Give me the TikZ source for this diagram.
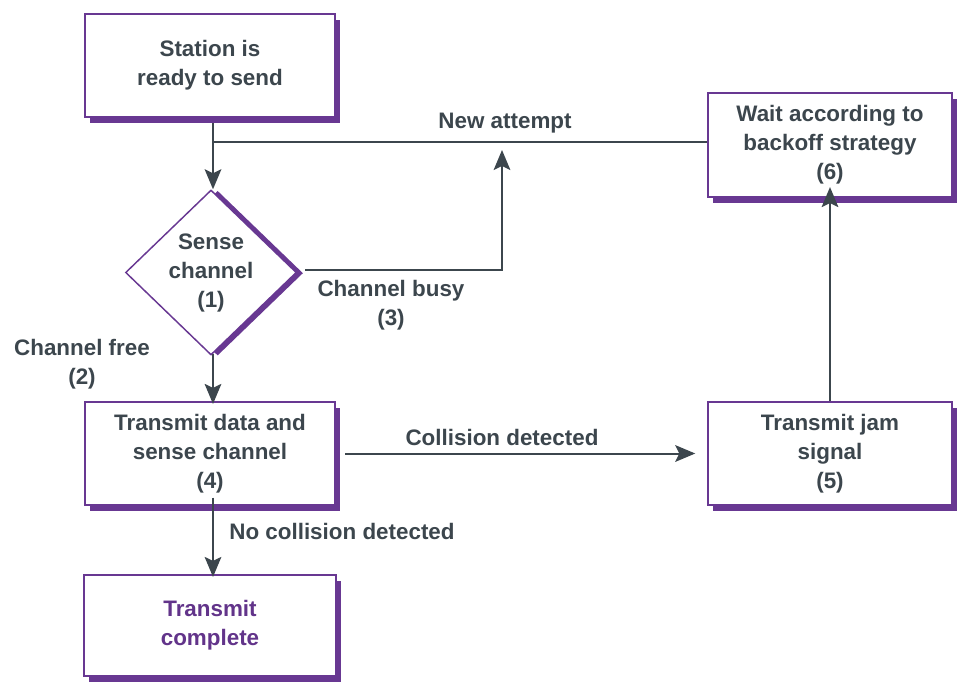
\documentclass[tikz,border=0pt]{standalone}
\usepackage{fontspec}
\setmainfont{Liberation Sans}
\usetikzlibrary{shapes.geometric,shadows,arrows.meta}
\definecolor{pur}{RGB}{104,56,146}
\definecolor{ink}{RGB}{60,70,77}
\definecolor{purtext}{RGB}{98,52,138}
\begin{document}
\begin{tikzpicture}[x=0.75pt,y=-0.75pt,
  font=\fontsize{16.8}{21.75}\selectfont\bfseries, text=ink,
  shd/.style={drop shadow={shadow xshift=3.75pt,shadow yshift=-4.5pt,fill=pur,opacity=1}},
  dshd/.style={drop shadow={shadow xshift=5pt,shadow yshift=-0.5pt,fill=pur,opacity=1}},
  box/.style={rectangle,draw=pur,line width=1.1pt,fill=white,shd,align=center,inner sep=0pt},
  dia/.style={diamond,draw=pur,line width=1.1pt,fill=white,dshd,align=center,inner sep=0pt,
    minimum width=128.25pt,minimum height=123.75pt},
  conn/.style={draw=ink,line width=1.5pt,-{Stealth[length=15pt,width=12.5pt,inset=3pt]}},
  line/.style={draw=ink,line width=1.5pt},
  lbl/.style={align=center,inner sep=0pt}]
\useasboundingbox (0,0) rectangle (960,682);
\node[box,minimum width=187.5pt,minimum height=77.25pt] (b1) at (210,65.5) {Station is\\ready to send};
\node[box,minimum width=183pt,minimum height=78pt] (b6) at (830,145) {Wait according to\\backoff strategy\\(6)};
\node[dia] (d) at (211,272.5) {Sense\\channel\\(1)};
\node[box,minimum width=187.5pt,minimum height=77.25pt] (b4) at (210,453.5) {Transmit data and\\sense channel\\(4)};
\node[box,minimum width=183pt,minimum height=77.25pt] (b5) at (830,453.5) {Transmit jam\\signal\\(5)};
\node[box,minimum width=189pt,minimum height=75.75pt,text=purtext] (b7) at (210,625.5) {Transmit\\complete};

\coordinate (top) at (213,123);
\coordinate (j) at (213,142);
\coordinate (bend) at (502,270);
\coordinate (na) at (502,150);

\path[line] (top) -- (j);
\path[conn] (j) -- (j |- d.north);
\path[line] (b6.west |- j) -- (j);
\path[conn] ([xshift=6pt]d.east |- bend) -- (bend) -- (na);
\path[conn] ([yshift=1pt]d.south -| j) -- ([yshift=-2pt]b4.north -| j);
\path[conn] ([xshift=7pt]b4.east) -- ([xshift=-9pt]b5.west);
\path[conn] (b5.north) -- ([yshift=8pt]b6.south);
\path[conn] ([yshift=6pt]b4.south -| j) -- ([yshift=-2pt]b7.north -| j);

\node[lbl] (lna) at (505,123) {New attempt};
\node[lbl] (lbusy) at (391,305) {Channel busy\\(3)};
\node[lbl] (lfree) at (82,364) {Channel free\\(2)};
\node[lbl] (lcol) at (502,437) {Collision detected};
\node[lbl] (lnocol) at (342,531) {No collision detected};
\end{tikzpicture}
\end{document}
